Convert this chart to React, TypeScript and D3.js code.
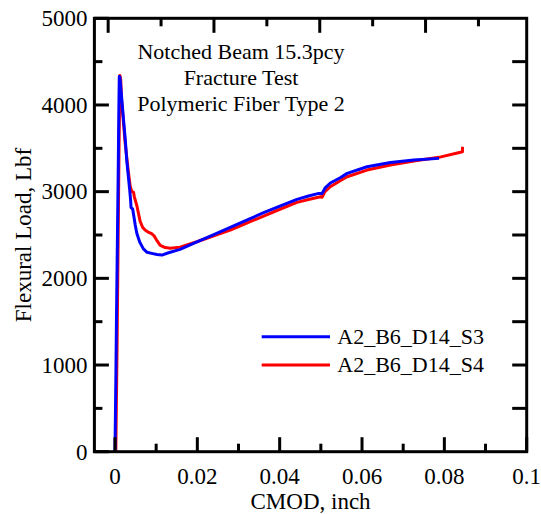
import React from "react";
import * as d3 from "d3";

const W = 541;
const H = 514;

const titleLines = ["Notched Beam 15.3pcy", "Fracture Test", "Polymeric Fiber Type 2"];
const xLabel = "CMOD, inch";
const yLabel = "Flexural Load, Lbf";
const xTickValues = [0, 0.02, 0.04, 0.06, 0.08, 0.1];
const xTickLabels = ["0", "0.02", "0.04", "0.06", "0.08", "0.1"];
const xMinorValues = [0.01, 0.03, 0.05, 0.07, 0.09];
const yTickValues = [0, 1000, 2000, 3000, 4000, 5000];
const yMinorValues = [500, 1500, 2500, 3500, 4500];
const rightTickValues = [500, 1000, 1500, 2000, 2500, 3000, 3500, 4000, 4500];
const topMajorValues = [0, 1, 2, 3];
const topMinorValues = [0.5, 1.5, 2.5, 3.5];

const seriesNames = ["A2_B6_D14_S3", "A2_B6_D14_S4"];
const seriesColors = ["#0000ff", "#ff0000"];

const s3: [number, number][] = [
  [0, 0], [0.0002, 800], [0.0004, 1700], [0.0006, 2500], [0.0008, 3300],
  [0.00095, 4000], [0.00105, 4330], [0.0012, 4320], [0.0015, 4150], [0.002, 3870],
  [0.0025, 3600], [0.00285, 3364], [0.0033, 3150], [0.00365, 2980], [0.0038, 2900],
  [0.0039, 2815], [0.0043, 2800], [0.0045, 2740], [0.0049, 2620], [0.0053, 2520],
  [0.006, 2420], [0.0069, 2340], [0.0078, 2300], [0.0089, 2288], [0.0102, 2275],
  [0.0114, 2268], [0.013, 2295], [0.0158, 2334], [0.0199, 2422], [0.024, 2505],
  [0.028, 2588], [0.032, 2672], [0.0361, 2757], [0.0402, 2836], [0.0442, 2911],
  [0.047, 2950], [0.0495, 2980], [0.0503, 2978], [0.051, 3040], [0.0523, 3100],
  [0.0547, 3160], [0.0564, 3211], [0.0612, 3287], [0.0669, 3337], [0.0726, 3364],
  [0.0787, 3384],
];

const s4: [number, number][] = [
  [0.0002, 0], [0.0005, 1200], [0.0008, 2600], [0.001, 3600], [0.0012, 4340],
  [0.0014, 4290], [0.0016, 4056], [0.002, 3830], [0.0024, 3595], [0.0028, 3420],
  [0.0032, 3249], [0.0037, 3060], [0.0039, 3030], [0.0041, 3000], [0.0045, 2995],
  [0.0047, 2940], [0.0053, 2840], [0.0061, 2660], [0.0067, 2590], [0.0073, 2557],
  [0.0082, 2530], [0.0089, 2515], [0.0095, 2490], [0.0101, 2442], [0.011, 2380],
  [0.0122, 2355], [0.0134, 2346], [0.0158, 2360], [0.0182, 2396], [0.0199, 2422],
  [0.024, 2490], [0.028, 2557], [0.032, 2638], [0.0361, 2719], [0.0402, 2800],
  [0.0442, 2876], [0.047, 2910], [0.0499, 2941], [0.0503, 2936], [0.051, 3000],
  [0.0523, 3057], [0.0547, 3126], [0.0564, 3172], [0.0612, 3249], [0.0669, 3307],
  [0.0726, 3353], [0.0787, 3396], [0.0844, 3460], [0.0844, 3518],
];

const FONT = "'Liberation Serif', 'Times New Roman', serif";

export default function App() {
  const left = 94.4, right = 526.7, top = 18.3, bottom = 451.7;
  const x = d3.scaleLinear().domain([-0.005, 0.1]).range([left, right]);
  const y = d3.scaleLinear().domain([0, 5000]).range([bottom, top]);
  const xt = d3.scaleLinear().domain([-0.13, 3.956]).range([left, right]);
  const line = d3.line<[number, number]>().x((d) => x(d[0])).y((d) => y(d[1]));
  const major = 14.5, minor = 8;
  const sw = 3;
  const fs = 23;
  const legendY = [336.7, 365];

  return (
    <svg width={W} height={H} style={{ position: "absolute", left: 0, top: 0, background: "#fff" }} fontFamily={FONT}>
      <rect x={0} y={0} width={W} height={H} fill="#fff" />
      {/* data */}
      <path d={line(s4) || ""} fill="none" stroke={seriesColors[1]} strokeWidth={3} strokeLinejoin="round" />
      <path d={line(s3) || ""} fill="none" stroke={seriesColors[0]} strokeWidth={3} strokeLinejoin="round" />
      {/* frame */}
      <rect x={left} y={top} width={right - left} height={bottom - top} fill="none" stroke="#000" strokeWidth={sw} />
      {/* bottom ticks */}
      {xTickValues.map((v) => (
        <line key={"xb" + v} x1={x(v)} x2={x(v)} y1={bottom} y2={bottom - major} stroke="#000" strokeWidth={sw} />
      ))}
      {xMinorValues.map((v) => (
        <line key={"xm" + v} x1={x(v)} x2={x(v)} y1={bottom} y2={bottom - minor} stroke="#000" strokeWidth={sw} />
      ))}
      {/* top ticks */}
      {topMajorValues.map((v) => (
        <line key={"tb" + v} x1={xt(v)} x2={xt(v)} y1={top} y2={top + major} stroke="#000" strokeWidth={sw} />
      ))}
      {topMinorValues.map((v) => (
        <line key={"tm" + v} x1={xt(v)} x2={xt(v)} y1={top} y2={top + minor} stroke="#000" strokeWidth={sw} />
      ))}
      {/* left ticks */}
      {yTickValues.map((v) => (
        <line key={"yb" + v} x1={left} x2={left + major} y1={y(v)} y2={y(v)} stroke="#000" strokeWidth={sw} />
      ))}
      {yMinorValues.map((v) => (
        <line key={"ym" + v} x1={left} x2={left + minor} y1={y(v)} y2={y(v)} stroke="#000" strokeWidth={sw} />
      ))}
      {/* right ticks */}
      {rightTickValues.map((v) => (
        <line key={"yr" + v} x1={right} x2={right - major} y1={y(v)} y2={y(v)} stroke="#000" strokeWidth={sw} />
      ))}
      {/* tick labels */}
      {xTickValues.map((v, i) => (
        <text key={"xl" + v} x={x(v)} y={484} textAnchor="middle" fontSize={fs} fill="#000">
          {xTickLabels[i]}
        </text>
      ))}
      {yTickValues.map((v) => (
        <text key={"yl" + v} x={87.5} y={y(v)} dy="0.34em" textAnchor="end" fontSize={fs} fill="#000">
          {String(v)}
        </text>
      ))}
      {/* axis titles */}
      <text x={(left + right) / 2} y={509} textAnchor="middle" fontSize={fs} fill="#000">
        {xLabel}
      </text>
      <text transform={`translate(31,${(top + bottom) / 2}) rotate(-90)`} textAnchor="middle" fontSize={fs} fill="#000">
        {yLabel}
      </text>
      {/* title */}
      {titleLines.map((t, i) => (
        <text key={t} x={241} y={59 + i * 26} textAnchor="middle" fontSize={22} fill="#000">
          {t}
        </text>
      ))}
      {/* legend */}
      {seriesNames.map((n, i) => (
        <g key={n}>
          <line x1={261.7} x2={330} y1={legendY[i]} y2={legendY[i]} stroke={seriesColors[i]} strokeWidth={3} />
          <text x={337.3} y={legendY[i] + 7} fontSize={22} fill="#000">
            {n}
          </text>
        </g>
      ))}
    </svg>
  );
}
